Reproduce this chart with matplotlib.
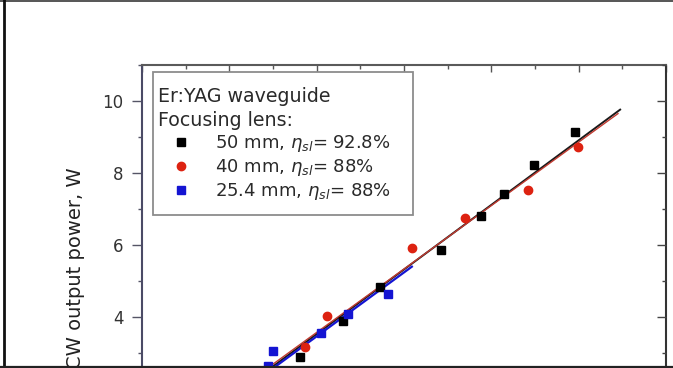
import matplotlib
matplotlib.use('Agg')
import matplotlib.pyplot as plt
from matplotlib.lines import Line2D
from matplotlib.patches import Rectangle
from matplotlib.ticker import MultipleLocator
import numpy as np

plt.rcParams['font.family'] = ['DejaVu Sans']
plt.rcParams['mathtext.fontset'] = 'dejavusans'

# ---------------- data ----------------
black_x = [3.62, 4.60, 5.45, 6.85, 7.76, 8.30, 8.98, 9.92]
black_y = [2.89, 3.89, 4.83, 5.86, 6.80, 7.41, 8.22, 9.12]
red_x = [3.73, 4.23, 6.18, 7.40, 8.85, 9.98]
red_y = [3.17, 4.03, 5.90, 6.74, 7.53, 8.70]
blue_x = [2.89, 2.99, 4.10, 4.72, 5.64]
blue_y = [2.64, 3.05, 3.56, 4.07, 4.63]

# linear fits: (slope, intercept), x-range
fit_black = (0.897, -0.07)
fit_red = (0.881, 0.039)
fit_blue = (0.888, -0.098)
fit_black_range = (2.0, 10.95)
fit_red_range = (2.0, 10.90)
fit_blue_range = (2.0, 6.18)

labels = [r'50 mm, $\eta_{sl}$= 92.8%',
          r'40 mm, $\eta_{sl}$= 88%',
          r'25.4 mm, $\eta_{sl}$= 88%']
legend_title = 'Er:YAG waveguide\nFocusing lens:'
ylabel = 'CW output power, W'

c_black, c_red, c_blue = '#000000', '#dd2211', '#1414d2'

# ---------------- figure ----------------
W, H = 673, 368
fig = plt.figure(figsize=(W / 100, H / 100), dpi=100)
ax_top_px, ax_h_px = 64.7, 396.0
ax_left_px, ax_w_px = 142.0, 524.0
ax = fig.add_axes([ax_left_px / W, 1 - (ax_top_px + ax_h_px) / H,
                   ax_w_px / W, ax_h_px / H])

ax.set_xlim(0, 12)
ax.set_ylim(0, 11)

def fit_line(fit, rng):
    xs = np.array(rng)
    return xs, fit[0] * xs + fit[1]

xs, ys = fit_line(fit_black, fit_black_range)
ax.plot(xs, ys, color='#1a1a1a', lw=1.4, zorder=3)
xs, ys = fit_line(fit_blue, fit_blue_range)
ax.plot(xs, ys, color=c_blue, lw=1.6, zorder=3)
xs, ys = fit_line(fit_red, fit_red_range)
ax.plot(xs, ys, color='#c03a30', lw=1.0, zorder=3)

ax.plot(black_x, black_y, 's', color=c_black, ms=5.5, label=labels[0], zorder=4)
ax.plot(red_x, red_y, 'o', color=c_red, ms=6, label=labels[1], zorder=4)
ax.plot(blue_x, blue_y, 's', color=c_blue, ms=5.5, label=labels[2], zorder=4)

# ticks
ax.xaxis.set_major_locator(MultipleLocator(2))
ax.xaxis.set_minor_locator(MultipleLocator(1))
ax.yaxis.set_major_locator(MultipleLocator(2))
ax.yaxis.set_minor_locator(MultipleLocator(1))
ax.tick_params(axis='x', which='major', direction='in', length=4.7, width=1,
               top=True, bottom=True, labelbottom=False, color='#555555')
ax.tick_params(axis='x', which='minor', direction='in', length=2.9, width=1,
               top=True, bottom=True, color='#555555')
ax.tick_params(axis='y', which='major', direction='out', length=7.2, width=1,
               left=True, right=False, pad=6, labelsize=12,
               labelcolor='#333333', color='#555566')
ax.tick_params(axis='y', which='minor', direction='out', length=3.2, width=1,
               left=True, right=False, color='#555566')

ax2 = ax.twinx()
ax2.set_ylim(ax.get_ylim())
ax2.yaxis.set_major_locator(MultipleLocator(2))
ax2.yaxis.set_minor_locator(MultipleLocator(1))
ax2.tick_params(axis='y', which='major', direction='in', length=6.5, width=1,
                labelright=False, color='#444444')
ax2.tick_params(axis='y', which='minor', direction='in', length=3.2, width=1,
                color='#444444')
for s in ax2.spines.values():
    s.set_visible(False)

ax.spines['left'].set_color('#4b4b66')
ax.spines['top'].set_color('#5a5a5a')
ax.spines['right'].set_color('#333333')
for s in ('left', 'top', 'right'):
    ax.spines[s].set_linewidth(1.5)

# legend box
def fx(px):
    return (px - ax_left_px) / ax_w_px

def fy(py):
    return 1 - (py - ax_top_px) / ax_h_px

box = Rectangle((fx(153.3), fy(215)), fx(413.3) - fx(153.3), fy(71.7) - fy(215),
                transform=ax.transAxes, facecolor='white', edgecolor='#8c8c8c',
                lw=1.3, zorder=5)
ax.add_patch(box)
leg = ax.legend(title=legend_title, alignment='left', loc='upper left',
                bbox_to_anchor=(fx(157.5), fy(87.5)), frameon=False,
                prop={'size': 13}, title_fontproperties={'size': 13.7},
                handlelength=2.57, handletextpad=0.62, labelspacing=0.155,
                borderpad=0, borderaxespad=0)
leg.set_zorder(6)
leg.get_title().set_linespacing(1.33)
for t in leg.get_texts():
    t.set_color('#2a2a2a')
leg.get_title().set_color('#2a2a2a')

fig.text(75.5 / W, 1 - 268 / H, ylabel, rotation=90, ha='center', va='center',
         fontsize=14, color='#222222')

# outer frame of the picture
fig.add_artist(Line2D([0, 1], [1 - 0.8 / H] * 2, transform=fig.transFigure,
                      color='#555555', lw=1.4))
fig.add_artist(Line2D([3.5 / W] * 2, [0, 1], transform=fig.transFigure,
                      color='#111111', lw=2.0))
fig.add_artist(Line2D([0, 1], [1 - 366.5 / H] * 2, transform=fig.transFigure,
                      color='#222222', lw=1.6))

fig.savefig('out.png', dpi=100)
